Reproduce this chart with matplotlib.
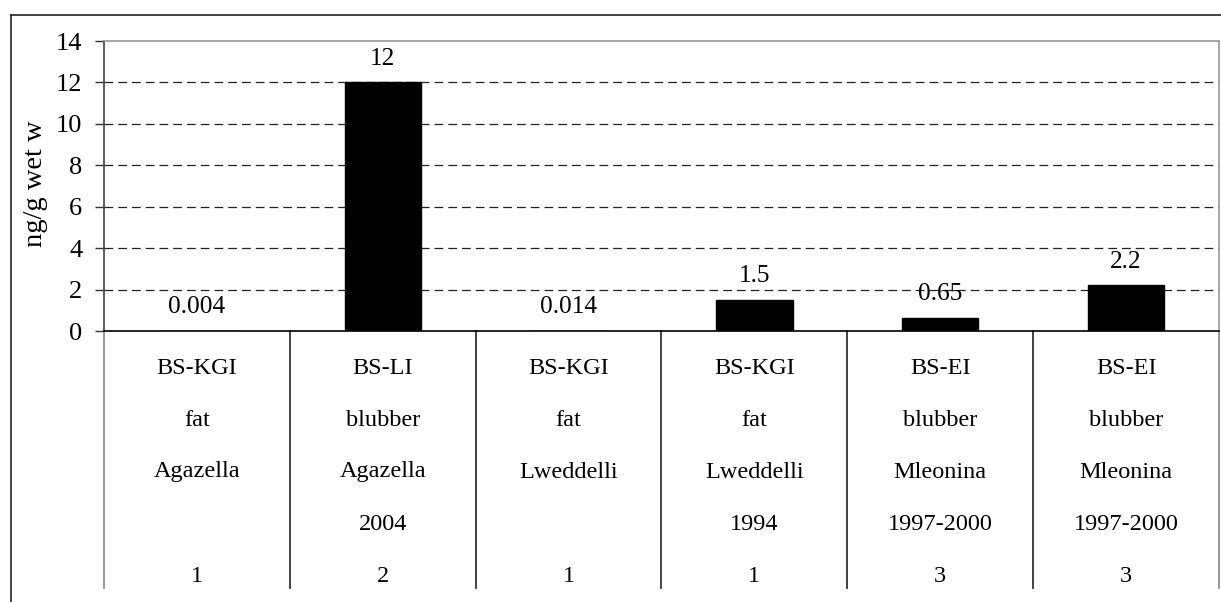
import matplotlib.pyplot as plt
import matplotlib.transforms as mtransforms
import numpy as np

plt.rcParams['font.family'] = 'Liberation Serif'

values = [0.004, 12, 0.014, 1.5, 0.65, 2.2]
value_labels = ['0.004', '12', '0.014', '1.5', '0.65', '2.2']
site = ['BS-KGI', 'BS-LI', 'BS-KGI', 'BS-KGI', 'BS-EI', 'BS-EI']
tissue = ['fat', 'blubber', 'fat', 'fat', 'blubber', 'blubber']
species = ['Agazella', 'Agazella', 'Lweddelli', 'Lweddelli', 'Mleonina', 'Mleonina']
years = ['', '2004', '', '1994', '1997-2000', '1997-2000']
refs = ['1', '2', '1', '1', '3', '3']
yticks = [0, 2, 4, 6, 8, 10, 12, 14]

W, H = 1221, 602
fig = plt.figure(figsize=(W / 100, H / 100), dpi=100)
ax = fig.add_axes([104 / W, 1 - 331 / H, (1219 - 104) / W, (331 - 41) / H])

# outer frame of the chart area
fig.add_artist(plt.Line2D([11 / W, 11 / W], [0, 1 - 15 / H], color='#222222', lw=1.2))
fig.add_artist(plt.Line2D([11 / W, 1], [1 - 15 / H, 1 - 15 / H], color='#222222', lw=1.2))

x = np.arange(len(values))
ax.bar(x, values, width=0.41, color='black', edgecolor='black', zorder=3)
ax.set_xlim(-0.5, len(values) - 0.5)
ax.set_ylim(0, 14)
ax.set_yticks(yticks)
ax.set_yticklabels([str(t) for t in yticks], fontsize=19)
ax.tick_params(axis='y', direction='out', length=6.5, width=1, pad=9, color='#333333')
ax.set_xticks([])

for t in yticks[1:-1]:
    ax.axhline(t, color='#222222', lw=0.9, linestyle=(0, (7, 4)), zorder=1)

ax.spines['left'].set_color('#444444')
ax.spines['top'].set_color('#999999')
ax.spines['right'].set_color('#999999')
ax.spines['bottom'].set_color('black')
for s in ax.spines.values():
    s.set_linewidth(1.2)

for xi, v, lab in zip(x, values, value_labels):
    ax.annotate(lab, (xi, v), xytext=(0, 17), textcoords='offset points',
                ha='center', va='center', fontsize=18.3)

# multi-level category table under the axis
trans = mtransforms.blended_transform_factory(ax.transData, ax.transAxes)
h = 331 - 41
bottom_y = -(588 - 331) / h
for b in np.arange(len(values) + 1) - 0.5:
    col = '#888888' if b in (-0.5, len(values) - 0.5) else '#222222'
    ax.plot([b, b], [0, bottom_y], transform=trans, color=col, lw=1.2, clip_on=False)

rows_px = [368, 420, 472, 524, 576]
for row, py in zip([site, tissue, species, years, refs], rows_px):
    yy = -(py - 331) / h
    for xi, txt in zip(x, row):
        ax.text(xi, yy, txt, transform=trans, ha='center', va='center', fontsize=17.5)

fig.text(36 / W, 1 - 184 / H, 'ng/g wet w', rotation=90, ha='center', va='center', fontsize=20.5)

fig.savefig('out.png', dpi=100)
